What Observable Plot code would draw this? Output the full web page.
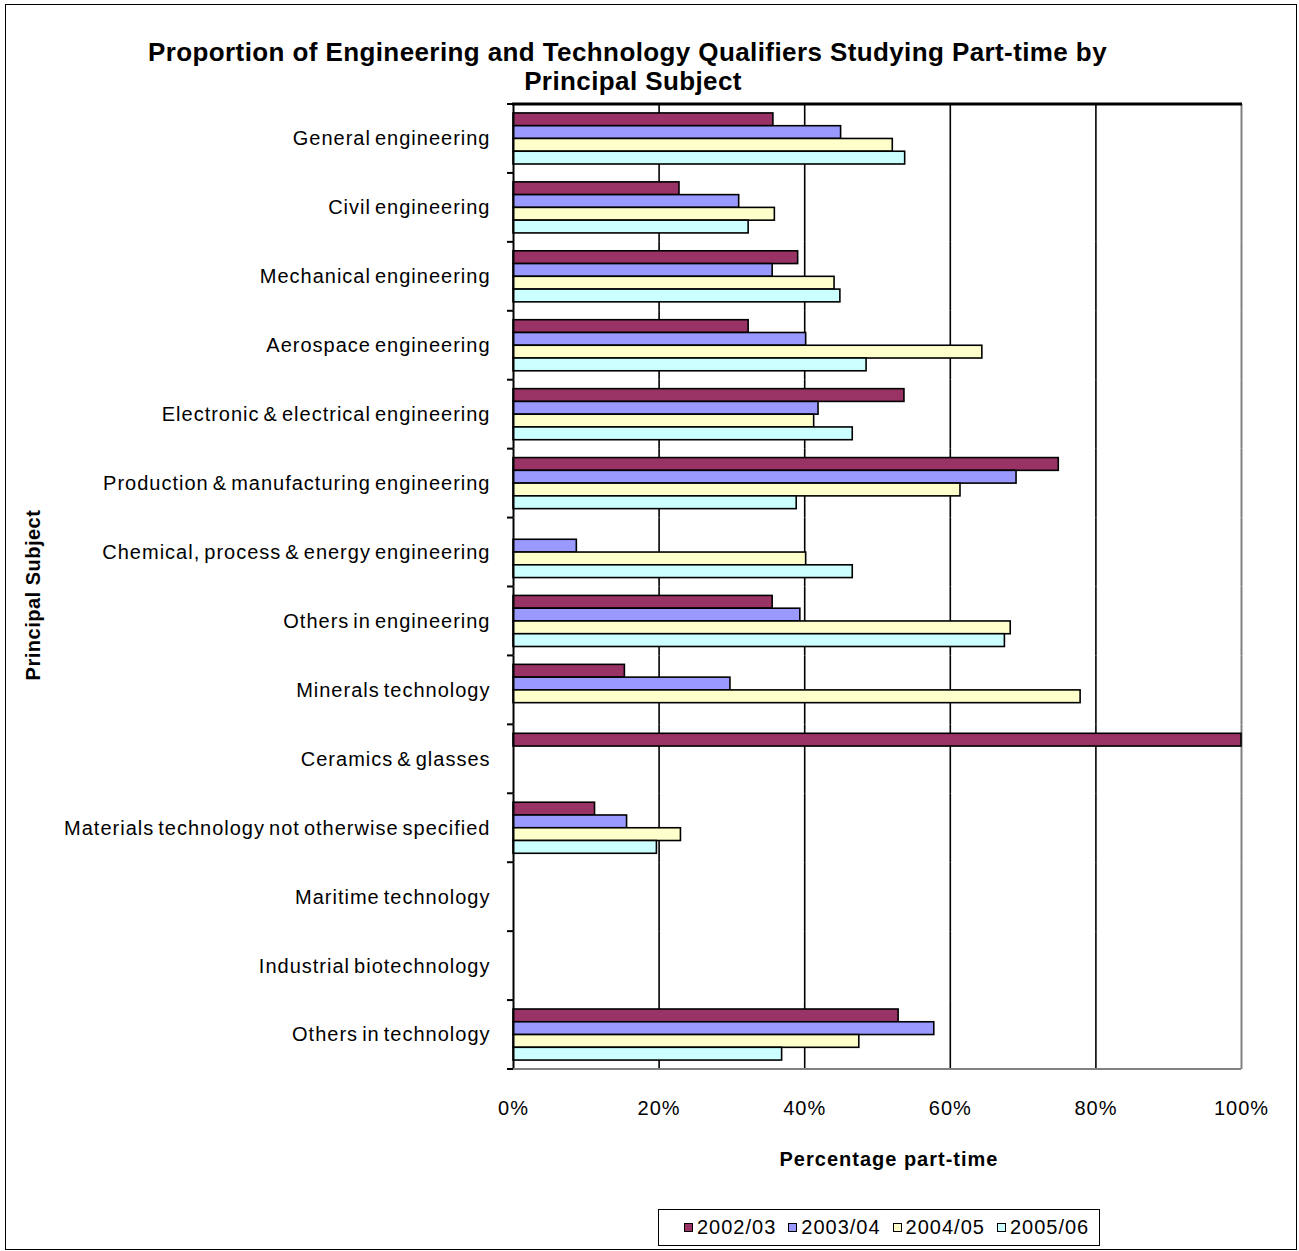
<!DOCTYPE html>
<html>
<head>
<meta charset="utf-8">
<script src="https://cdn.jsdelivr.net/npm/d3@7"></script>
<script src="https://cdn.jsdelivr.net/npm/@observablehq/plot@0.6"></script>
<style>
  body { margin: 0; background: #fff; font-family: Arial, "Liberation Sans", sans-serif; }
  #wrap { position: relative; width: 1299px; height: 1251px; overflow: hidden; background: #fff; }
  #chart { position: absolute; left: 0; top: 0; }
  #chart svg text { letter-spacing: 1px; word-spacing: -2.5px; }
  #frame { position: absolute; left: 5px; top: 4px; width: 1292px; height: 1246px; border: 1.5px solid #000; box-sizing: border-box; pointer-events: none; }
  .title { position: absolute; font-weight: bold; font-size: 26px; letter-spacing: 0.4px; line-height: 30px; text-align: center; white-space: nowrap; color: #000; }
  .axtitle { position: absolute; font-weight: bold; font-size: 20px; letter-spacing: 1px; white-space: nowrap; color: #000; }
  #legend { position: absolute; left: 658px; top: 1209px; width: 442px; height: 37px; border: 1.5px solid #000; box-sizing: border-box; display: flex; align-items: center; justify-content: flex-start; padding-left: 25px; gap: 12px; font-size: 20px; letter-spacing: 1px; }
  #legend .item { display: flex; align-items: center; gap: 4px; }
  #legend .sw { width: 9px; height: 9px; border: 1.5px solid #000; box-sizing: border-box; }
</style>
</head>
<body>
<div id="wrap">
  <div id="chart"></div>
  <div class="title" id="t1" style="left:0; width:1255px; top:37px;">Proportion of Engineering and Technology Qualifiers Studying Part-time by</div>
  <div class="title" id="t2" style="left:0; width:1266px; top:66px;">Principal Subject</div>
  <div class="axtitle" style="left:525px; width:728px; text-align:center; top:1148px;">Percentage part-time</div>
  <div class="axtitle" style="left:33px; top:595px; letter-spacing:0.5px; transform: translate(-50%,-50%) rotate(-90deg);">Principal Subject</div>
  <div id="legend"></div>
  <div id="frame"></div>
</div>
<script>
const subjects = [
  "General engineering",
  "Civil engineering",
  "Mechanical engineering",
  "Aerospace engineering",
  "Electronic & electrical engineering",
  "Production & manufacturing engineering",
  "Chemical, process & energy engineering",
  "Others in engineering",
  "Minerals technology",
  "Ceramics & glasses",
  "Materials technology not otherwise specified",
  "Maritime technology",
  "Industrial biotechnology",
  "Others in technology"
];
const years = ["2002/03", "2003/04", "2004/05", "2005/06"];
// Percentage part-time (null = no bar)
const v2002 = [35.7, 22.8, 39.1, 32.3, 53.7, 74.9, null, 35.6, 15.3, 100, 11.2, null, null, 52.9];
const v2003 = [45.0, 31.0, 35.6, 40.2, 41.9, 69.1, 8.7, 39.4, 29.8, null, 15.6, null, null, 57.8];
const v2004 = [52.1, 35.9, 44.1, 64.4, 41.3, 61.4, 40.2, 68.3, 77.9, null, 23.0, null, null, 47.5];
const v2005 = [53.8, 32.3, 44.9, 48.5, 46.6, 38.9, 46.6, 67.5, null, null, 19.7, null, null, 36.9];
const xTicks = [0, 20, 40, 60, 80, 100];

const seriesVals = [v2002, v2003, v2004, v2005];
const rows = [];
subjects.forEach((s, i) => {
  years.forEach((y, j) => rows.push({subject: s, year: y, value: seriesVals[j][i]}));
});

const chart = Plot.plot({
  width: 1299,
  height: 1251,
  marginLeft: 513,
  marginRight: 58,
  marginTop: 104,
  marginBottom: 182,
  style: {fontFamily: "Arial, 'Liberation Sans', sans-serif", fontSize: "20px", background: "transparent", color: "#000"},
  x: {domain: [0, 100], ticks: xTicks, tickFormat: d => d + "%", tickSize: 0, tickPadding: 31, label: null},
  fy: {domain: subjects, padding: 0, round: false, axis: "left", tickSize: 0, tickPadding: 23, label: null},
  y: {domain: years, paddingInner: 0, paddingOuter: 0.7, round: false, axis: null},
  color: {domain: years, range: ["#993366", "#9999FF", "#FFFFCC", "#CCFFFF"]},
  marks: [
    Plot.ruleX(xTicks.filter(d => d > 0 && d < 100), {stroke: "#000", strokeWidth: 1.6, strokeOpacity: 1}),
    Plot.ruleX([100], {stroke: "#808080", strokeWidth: 2, strokeOpacity: 1}),
    Plot.barX(rows, {x: "value", y: "year", fy: "subject", fill: "year", stroke: "#000", strokeWidth: 1.6}),
    Plot.ruleX([0], {stroke: "#000", strokeWidth: 2, strokeOpacity: 1})
  ]
});
document.getElementById("chart").appendChild(chart);

// axis decorations from the library's scales
const fy = chart.scale("fy");
const xs = chart.scale("x");
const band = d3.scaleBand().domain(fy.domain).range(fy.range).paddingInner(0).paddingOuter(0);
const fyPos = s => (fy.apply ? fy.apply(s) : band(s));
const step = fy.step ?? band.step();
const bounds = subjects.map(fyPos);
bounds.push(bounds[bounds.length - 1] + step);
const x0 = xs.apply ? xs.apply(0) : 513;
const x1 = xs.apply ? xs.apply(100) : 1241;
const svg = d3.select(chart);
const g = svg.append("g");
g.append("line").attr("x1", x0).attr("x2", x1).attr("y1", bounds[bounds.length - 1]).attr("y2", bounds[bounds.length - 1]).attr("stroke", "#808080").attr("stroke-width", 2);
g.append("line").attr("x1", x0 - 1).attr("x2", x1 + 1).attr("y1", bounds[0]).attr("y2", bounds[0]).attr("stroke", "#000").attr("stroke-width", 3);
g.selectAll("line.tk").data(bounds).join("line").attr("class", "tk")
  .attr("x1", x0 - 6).attr("x2", x0).attr("y1", d => d).attr("y2", d => d)
  .attr("stroke", "#000").attr("stroke-width", 2);

// legend
const colorScale = chart.scale("color");
const legend = document.getElementById("legend");
years.forEach((y, i) => {
  const item = document.createElement("div");
  item.className = "item";
  const sw = document.createElement("div");
  sw.className = "sw";
  sw.style.background = colorScale.range[i];
  const tx = document.createElement("span");
  tx.textContent = y;
  item.appendChild(sw);
  item.appendChild(tx);
  legend.appendChild(item);
});
</script>
</body>
</html>
